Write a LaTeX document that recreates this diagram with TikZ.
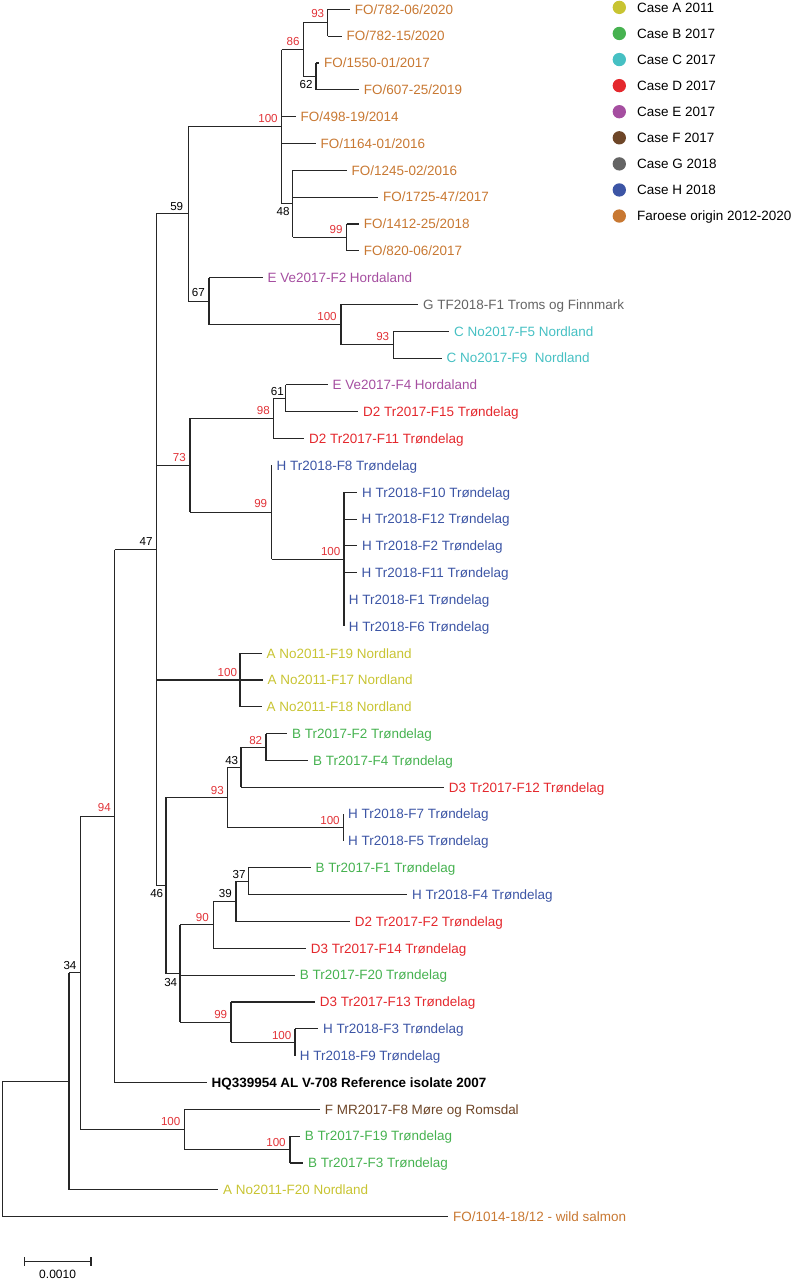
\documentclass[tikz,border=0pt]{standalone}
\usepackage{fontspec}
\setmainfont{Liberation Sans}
\definecolor{cA}{RGB}{200,196,50}
\definecolor{cB}{RGB}{70,178,80}
\definecolor{cC}{RGB}{70,192,195}
\definecolor{cD}{RGB}{228,40,45}
\definecolor{cE}{RGB}{165,78,160}
\definecolor{cF}{RGB}{110,70,40}
\definecolor{cG}{RGB}{100,100,100}
\definecolor{cH}{RGB}{60,85,165}
\definecolor{cO}{RGB}{200,120,50}
\definecolor{bsred}{RGB}{225,50,55}
\tikzset{
  br/.style={line width=0.85pt, draw=black!85},
  vbr/.style={br, line cap=square},
  leaf/.style={anchor=west, inner xsep=3.5pt, inner ysep=0pt, text height=0.9em, text depth=0.184em, font=\fontsize{10.1}{12}\selectfont},
  bsr/.style={font=\fontsize{8.7}{10}\selectfont, inner sep=0pt, text=bsred},
  bsk/.style={font=\fontsize{8.7}{10}\selectfont, inner sep=0pt, text=black},
  dot/.style={circle, inner sep=0pt, minimum size=10pt}
}
% #1 parent, #2 first child, #3 last child, #4 all children
\newcommand\tclade[4]{%
  \draw[vbr] (#1 |- #2) -- (#1 |- #3);
  \foreach \c in {#4}{\draw[br] (#1 |- \c) -- (\c);}%
}
\begin{document}
\begin{tikzpicture}[x=0.75pt,y=-0.75pt]
\useasboundingbox (0,0) rectangle (800,1280);
% leaves
\node[leaf,text=cO] (l1) at (350,9.3) {FO/782-06/2020};
\node[leaf,text=cO] (l2) at (341.7,36.13) {FO/782-15/2020};
\node[leaf,text=cO] (l3) at (319.3,62.96) {FO/1550-01/2017};
\node[leaf,text=cO] (l4) at (359,89.79) {FO/607-25/2019};
\node[leaf,text=cO] (l5) at (295.7,116.62) {FO/498-19/2014};
\node[leaf,text=cO] (l6) at (315.7,143.45) {FO/1164-01/2016};
\node[leaf,text=cO] (l7) at (346.7,170.28) {FO/1245-02/2016};
\node[leaf,text=cO] (l8) at (378.3,197.11) {FO/1725-47/2017};
\node[leaf,text=cO] (l9) at (359,223.94) {FO/1412-25/2018};
\node[leaf,text=cO] (l10) at (359,250.77) {FO/820-06/2017};
\node[leaf,text=cE] (l11) at (262.7,277.6) {E Ve2017-F2 Hordaland};
\node[leaf,text=cG] (l12) at (418.3,304.43) {G TF2018-F1 Troms og Finnmark};
\node[leaf,text=cC] (l13) at (449.3,331.26) {C No2017-F5 Nordland};
\node[leaf,text=cC] (l14) at (441.7,358.09) {C No2017-F9\ \ Nordland};
\node[leaf,text=cE] (l15) at (327.7,384.92) {E Ve2017-F4 Hordaland};
\node[leaf,text=cD] (l16) at (358.3,411.75) {D2 Tr2017-F15 Trøndelag};
\node[leaf,text=cD] (l17) at (304.3,438.58) {D2 Tr2017-F11 Trøndelag};
\node[leaf,text=cH] (l18) at (271.7,465.41) {H Tr2018-F8 Trøndelag};
\node[leaf,text=cH] (l19) at (357.3,492.24) {H Tr2018-F10 Trøndelag};
\node[leaf,text=cH] (l20) at (356.7,519.07) {H Tr2018-F12 Trøndelag};
\node[leaf,text=cH] (l21) at (357.3,545.9) {H Tr2018-F2 Trøndelag};
\node[leaf,text=cH] (l22) at (356.7,572.73) {H Tr2018-F11 Trøndelag};
\node[leaf,text=cH] (l23) at (344,599.56) {H Tr2018-F1 Trøndelag};
\node[leaf,text=cH] (l24) at (344,626.39) {H Tr2018-F6 Trøndelag};
\node[leaf,text=cA] (l25) at (261.7,653.22) {A No2011-F19 Nordland};
\node[leaf,text=cA] (l26) at (262.7,680.05) {A No2011-F17 Nordland};
\node[leaf,text=cA] (l27) at (261.7,706.88) {A No2011-F18 Nordland};
\node[leaf,text=cB] (l28) at (287.3,733.71) {B Tr2017-F2 Trøndelag};
\node[leaf,text=cB] (l29) at (308.3,760.54) {B Tr2017-F4 Trøndelag};
\node[leaf,text=cD] (l30) at (444,787.37) {D3 Tr2017-F12 Trøndelag};
\node[leaf,text=cH] (l31) at (343.3,814.2) {H Tr2018-F7 Trøndelag};
\node[leaf,text=cH] (l32) at (343.3,841.03) {H Tr2018-F5 Trøndelag};
\node[leaf,text=cB] (l33) at (310.7,867.86) {B Tr2017-F1 Trøndelag};
\node[leaf,text=cH] (l34) at (407.3,894.69) {H Tr2018-F4 Trøndelag};
\node[leaf,text=cD] (l35) at (350,921.52) {D2 Tr2017-F2 Trøndelag};
\node[leaf,text=cD] (l36) at (306,948.35) {D3 Tr2017-F14 Trøndelag};
\node[leaf,text=cB] (l37) at (295,975.18) {B Tr2017-F20 Trøndelag};
\node[leaf,text=cD] (l38) at (315,1002.01) {D3 Tr2017-F13 Trøndelag};
\node[leaf,text=cH] (l39) at (318.3,1028.84) {H Tr2018-F3 Trøndelag};
\node[leaf,text=cH] (l40) at (295,1055.67) {H Tr2018-F9 Trøndelag};
\node[leaf,text=black] (l41) at (206.7,1082.5) {\textbf{HQ339954 AL V-708 Reference isolate 2007}};
\node[leaf,text=cF] (l42) at (320,1109.33) {F MR2017-F8 Møre og Romsdal};
\node[leaf,text=cB] (l43) at (300,1136.16) {B Tr2017-F19 Trøndelag};
\node[leaf,text=cB] (l44) at (303.3,1162.99) {B Tr2017-F3 Trøndelag};
\node[leaf,text=cA] (l45) at (218.3,1189.82) {A No2011-F20 Nordland};
\node[leaf,text=cO] (l46) at (448.3,1216.65) {FO/1014-18/12 - wild salmon};
% internal nodes
\coordinate (n93f) at (327.7,22.7);
\coordinate (n62) at (316,76.4);
\coordinate (n86) at (303.3,49.55);
\coordinate (n99f) at (346.7,237.36);
\coordinate (n48) at (292.7,203.8);
\coordinate (n100f) at (281.7,126.7);
\coordinate (n93c) at (393.3,344.7);
\coordinate (n100g) at (341,324.6);
\coordinate (n67) at (209,301.1);
\coordinate (n59) at (188.3,213.9);
\coordinate (n61) at (285.7,398.3);
\coordinate (n98) at (273.3,418.4);
\coordinate (n100h) at (344,559.3);
\coordinate (n99h) at (271.7,512.4);
\coordinate (n73) at (190,465.4);
\coordinate (n100a) at (240,680.05);
\coordinate (n82) at (266,747.1);
\coordinate (n43) at (241,767.2);
\coordinate (n100hb) at (343.3,827.6);
\coordinate (n93b) at (227.7,797.4);
\coordinate (n37) at (248.3,881.3);
\coordinate (n39) at (236,901.4);
\coordinate (n90) at (213.3,924.9);
\coordinate (n100hc) at (295,1042.3);
\coordinate (n99d) at (231,1022.1);
\coordinate (n34i) at (180,973.5);
\coordinate (n46) at (166,885.5);
\coordinate (n47) at (156.3,549.7);
\coordinate (n94) at (114.7,816.1);
\coordinate (n100b) at (290,1149.6);
\coordinate (n100m) at (184.3,1129.5);
\coordinate (n34o) at (80.3,972.8);
\coordinate (nX) at (69,1081.3);
\coordinate (root) at (2.7,1149);
% branches
\tclade{n93f}{l1.west}{l2.west}{l1.west,l2.west}
\tclade{n62}{l3.west}{l4.west}{l3.west,l4.west}
\tclade{n86}{n93f}{n62}{n93f,n62}
\tclade{n99f}{l9.west}{l10.west}{l9.west,l10.west}
\tclade{n48}{l7.west}{n99f}{l7.west,l8.west,n99f}
\tclade{n100f}{n86}{n48}{n86,l5.west,l6.west,n48}
\tclade{n93c}{l13.west}{l14.west}{l13.west,l14.west}
\tclade{n100g}{l12.west}{n93c}{l12.west,n93c}
\tclade{n67}{l11.west}{n100g}{l11.west,n100g}
\tclade{n59}{n100f}{n67}{n100f,n67}
\tclade{n61}{l15.west}{l16.west}{l15.west,l16.west}
\tclade{n98}{n61}{l17.west}{n61,l17.west}
\tclade{n100h}{l19.west}{l24.west}{l19.west,l20.west,l21.west,l22.west,l23.west,l24.west}
\tclade{n99h}{l18.west}{n100h}{l18.west,n100h}
\tclade{n73}{n98}{n99h}{n98,n99h}
\tclade{n100a}{l25.west}{l27.west}{l25.west,l26.west,l27.west}
\tclade{n82}{l28.west}{l29.west}{l28.west,l29.west}
\tclade{n43}{n82}{l30.west}{n82,l30.west}
\tclade{n100hb}{l31.west}{l32.west}{l31.west,l32.west}
\tclade{n93b}{n43}{n100hb}{n43,n100hb}
\tclade{n37}{l33.west}{l34.west}{l33.west,l34.west}
\tclade{n39}{n37}{l35.west}{n37,l35.west}
\tclade{n90}{n39}{l36.west}{n39,l36.west}
\tclade{n100hc}{l39.west}{l40.west}{l39.west,l40.west}
\tclade{n99d}{l38.west}{n100hc}{l38.west,n100hc}
\tclade{n34i}{n90}{n99d}{n90,l37.west,n99d}
\tclade{n46}{n93b}{n34i}{n93b,n34i}
\tclade{n47}{n59}{n46}{n59,n73,n100a,n46}
\tclade{n94}{n47}{l41.west}{n47,l41.west}
\tclade{n100b}{l43.west}{l44.west}{l43.west,l44.west}
\tclade{n100m}{l42.west}{n100b}{l42.west,n100b}
\tclade{n34o}{n94}{n100m}{n94,n100m}
\tclade{nX}{n34o}{l45.west}{n34o,l45.west}
\tclade{root}{nX}{l46.west}{nX,l46.west}
% bootstrap values
\node[bsr] (b1) at (317.7,14) {93};
\node[bsr] (b2) at (293,41.7) {86};
\node[bsk] (b3) at (306,85) {62};
\node[bsr] (b4) at (268,119) {100};
\node[bsk] (b5) at (283,212) {48};
\node[bsk] (b6) at (176.7,206.7) {59};
\node[bsr] (b7) at (336,229.3) {99};
\node[bsk] (b8) at (198.3,292.7) {67};
\node[bsr] (b9) at (327,316.7) {100};
\node[bsr] (b10) at (382.7,336.7) {93};
\node[bsk] (b11) at (277.3,391.7) {61};
\node[bsr] (b12) at (263.3,410.7) {98};
\node[bsr] (b13) at (179.3,457.3) {73};
\node[bsr] (b14) at (260.7,504) {99};
\node[bsr] (b15) at (330.7,551.7) {100};
\node[bsk] (b16) at (146,541.7) {47};
\node[bsr] (b17) at (227.3,672.3) {100};
\node[bsr] (b18) at (255.7,740) {82};
\node[bsk] (b19) at (231.7,760.7) {43};
\node[bsr] (b20) at (217.3,790.7) {93};
\node[bsr] (b21) at (330,820) {100};
\node[bsk] (b22) at (156.7,893.3) {46};
\node[bsk] (b23) at (239,874) {37};
\node[bsk] (b24) at (225.3,893.3) {39};
\node[bsr] (b25) at (202.3,917.7) {90};
\node[bsk] (b26) at (170.7,982.7) {34};
\node[bsr] (b27) at (220.7,1014.3) {99};
\node[bsr] (b28) at (281.7,1035) {100};
\node[bsr] (b29) at (104.3,807.7) {94};
\node[bsk] (b30) at (70,965) {34};
\node[bsr] (b31) at (170.7,1121.7) {100};
\node[bsr] (b32) at (276,1142.3) {100};
% scale bar
\coordinate (s1) at (24.3,1261.7);
\coordinate (s2) at (91,1261.7);
\draw[br] (s1) -- (s2);
\draw[br] ([yshift=3.5pt]s1) -- ([yshift=-3.5pt]s1);
\draw[br] ([yshift=3.5pt]s2) -- ([yshift=-3.5pt]s2);
\node[font=\fontsize{9}{11}\selectfont, inner sep=0pt] (slab) at (57.6,1274.5) {0.0010};
% legend
\foreach \i/\c/\t in {0/cA/Case A 2011, 1/cB/Case B 2017, 2/cC/Case C 2017, 3/cD/Case D 2017, 4/cE/Case E 2017, 5/cF/Case F 2017, 6/cG/Case G 2018, 7/cH/Case H 2018, 8/cO/Faroese origin 2012-2020}{
  \node[dot, fill=\c] (ld\i) at (619.3,{7.4+\i*26.08}) {};
  \node[leaf, text=black] (lt\i) at (632.3,{7.4+\i*26.08}) {\t};
}
\end{tikzpicture}
\end{document}
